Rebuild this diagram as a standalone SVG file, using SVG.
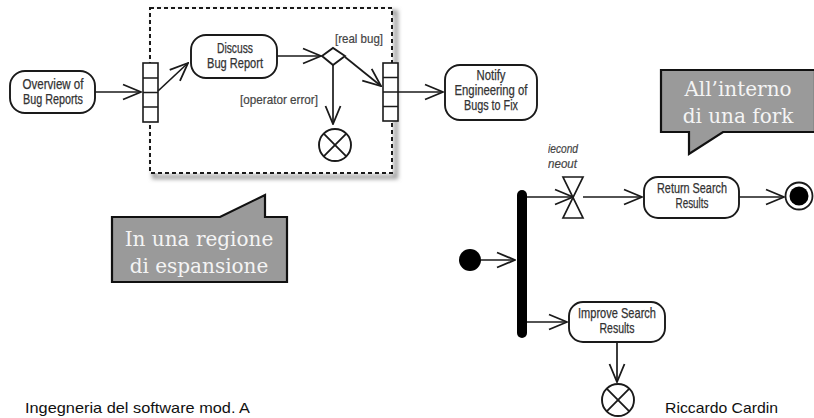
<svg xmlns="http://www.w3.org/2000/svg" width="814" height="418" viewBox="0 0 814 418">
<style>
.act{fill:#fff;stroke:#1a1a1a;stroke-width:1.9}
.lbl{font-family:"Liberation Sans","DejaVu Sans",sans-serif;font-size:14px;fill:#333;text-anchor:middle;stroke:#333;stroke-width:0.25}
.grd{font-family:"Liberation Sans","DejaVu Sans",sans-serif;font-size:13px;fill:#444;stroke:#444;stroke-width:0.2}
.edge{fill:none;stroke:#1a1a1a;stroke-width:1.7}
.pin{fill:#fff;stroke:#1a1a1a;stroke-width:1.6}
.callout{fill:#9a9a9a;stroke:#111;stroke-width:2.2}
.ctext{font-family:"DejaVu Serif","Liberation Serif",serif;font-size:20px;fill:#f4f4f4;text-anchor:middle}
.foot{font-family:"Liberation Sans","Open Sans",sans-serif;font-size:15px;fill:#111}
</style>
<defs>
<marker id="open" viewBox="0 0 20 18" refX="19" refY="9" markerWidth="20" markerHeight="18" markerUnits="userSpaceOnUse" orient="auto">
<path d="M1,1.5 L19,9 L1,16.5" fill="none" stroke="#1a1a1a" stroke-width="1.8"/>
</marker>
<filter id="blur" x="-10%" y="-10%" width="120%" height="120%"><feGaussianBlur stdDeviation="2"/></filter>
<clipPath id="rclip"><rect x="548" y="130" width="60" height="50"/></clipPath>
</defs>
<rect width="814" height="418" fill="#fff"/>

<g id="expansion-region">
<rect x="154" y="12" width="242" height="165" fill="none" stroke="#999" stroke-width="4" filter="url(#blur)"/>
<rect x="150" y="8" width="242" height="165" fill="#fff" stroke="#1a1a1a" stroke-width="2" stroke-dasharray="4,3"/>
</g>

<g id="overview">
<rect class="act" x="10" y="71" width="85" height="42" rx="15"/>
<text class="lbl" x="53" y="89" textLength="61" lengthAdjust="spacingAndGlyphs">Overview of</text>
<text class="lbl" x="53" y="104" textLength="60" lengthAdjust="spacingAndGlyphs">Bug Reports</text>
</g>

<g id="input-pins">
<rect class="pin" x="143" y="63" width="15" height="59"/>
<path d="M143,78 H158 M143,92.5 H158 M143,107 H158" stroke="#1a1a1a" stroke-width="1.6"/>
</g>

<g id="discuss">
<rect class="act" x="191" y="35" width="86" height="43" rx="15"/>
<text class="lbl" x="235" y="53" textLength="36" lengthAdjust="spacingAndGlyphs">Discuss</text>
<text class="lbl" x="235" y="68" textLength="56" lengthAdjust="spacingAndGlyphs">Bug Report</text>
</g>

<g id="decision">
<path class="act" d="M322,56 L333,48 L345,56 L333,65 Z"/>
<text class="grd" x="335" y="43" textLength="48" lengthAdjust="spacingAndGlyphs">[real bug]</text>
<text class="grd" x="240" y="104" textLength="78" lengthAdjust="spacingAndGlyphs">[operator error]</text>
</g>

<g id="flow-final-1">
<circle class="act" cx="335" cy="145" r="16"/>
<path d="M323.7,133.7 L346.3,156.3 M346.3,133.7 L323.7,156.3" stroke="#1a1a1a" stroke-width="1.8"/>
</g>

<g id="output-pins">
<rect class="pin" x="383" y="63" width="15" height="58"/>
<path d="M383,77.5 H398 M383,92 H398 M383,106.5 H398" stroke="#1a1a1a" stroke-width="1.6"/>
</g>

<g id="notify">
<rect class="act" x="445" y="65" width="92" height="55" rx="15"/>
<text class="lbl" x="491" y="80" textLength="29" lengthAdjust="spacingAndGlyphs">Notify</text>
<text class="lbl" x="491" y="95" textLength="73" lengthAdjust="spacingAndGlyphs">Engineering of</text>
<text class="lbl" x="491" y="110" textLength="54" lengthAdjust="spacingAndGlyphs">Bugs to Fix</text>
</g>

<g id="initial">
<circle cx="470" cy="260" r="11" fill="#000"/>
</g>

<g id="fork">
<rect x="517" y="190" width="10" height="148" rx="5" fill="#000"/>
</g>

<g id="timer">
<path d="M563,177 H583 L563,218 H583 Z" fill="#fff" stroke="#1a1a1a" stroke-width="1.7"/>
<g clip-path="url(#rclip)">
<text class="grd" x="548" y="153" font-style="italic" textLength="30" lengthAdjust="spacingAndGlyphs">iecond</text>
<text class="grd" x="548" y="168" font-style="italic" textLength="29" lengthAdjust="spacingAndGlyphs">neout</text>
</g>
</g>

<g id="return-search">
<rect class="act" x="644" y="177" width="95" height="41" rx="14"/>
<text class="lbl" x="692" y="193" textLength="70" lengthAdjust="spacingAndGlyphs">Return Search</text>
<text class="lbl" x="692" y="208" textLength="33" lengthAdjust="spacingAndGlyphs">Results</text>
</g>

<g id="final">
<circle cx="799" cy="196" r="13.5" fill="#fff" stroke="#1a1a1a" stroke-width="1.8"/>
<circle cx="799" cy="196" r="9.5" fill="#000"/>
</g>

<g id="improve-search">
<rect class="act" x="569" y="302" width="96" height="40" rx="14"/>
<text class="lbl" x="617" y="318" textLength="78" lengthAdjust="spacingAndGlyphs">Improve Search</text>
<text class="lbl" x="617" y="333" textLength="35" lengthAdjust="spacingAndGlyphs">Results</text>
</g>

<g id="flow-final-2">
<circle class="act" cx="618" cy="400" r="16"/>
<path d="M606.7,388.7 L629.3,411.3 M629.3,388.7 L606.7,411.3" stroke="#1a1a1a" stroke-width="1.8"/>
</g>

<g id="connectors">
<path class="edge" marker-end="url(#open)" d="M95,92 L141,92"/>
<path class="edge" marker-end="url(#open)" d="M158,91 L188,63"/>
<path class="edge" marker-end="url(#open)" d="M277,56 L321,56"/>
<path class="edge" marker-end="url(#open)" d="M345,57 L381,86"/>
<path class="edge" marker-end="url(#open)" d="M333,65 L333,124"/>
<path class="edge" marker-end="url(#open)" d="M398,92 L443,92"/>
<path class="edge" marker-end="url(#open)" d="M481,260 L515,260"/>
<path class="edge" marker-end="url(#open)" d="M527,197 L573,197"/>
<path class="edge" marker-end="url(#open)" d="M583,197 L642,197"/>
<path class="edge" marker-end="url(#open)" d="M739,197 L784,197"/>
<path class="edge" marker-end="url(#open)" d="M527,322 L567,322"/>
<path class="edge" marker-end="url(#open)" d="M617,342 L617,382"/>
</g>

<g id="callout-expansion">
<path class="callout" d="M112,217 H220 L265,195 V217 H287 V282 H112 Z"/>
<text class="ctext" x="199" y="246">In una regione</text>
<text class="ctext" x="199" y="273">di espansione</text>
</g>

<g id="callout-fork">
<path class="callout" d="M661,70 H815 V132 H723 L689,154 V132 H661 Z"/>
<text class="ctext" x="738" y="96">All’interno</text>
<text class="ctext" x="738" y="123">di una fork</text>
</g>

<text class="foot" x="25" y="413" textLength="225" lengthAdjust="spacingAndGlyphs">Ingegneria del software mod. A</text>
<text class="foot" x="665" y="413" textLength="113" lengthAdjust="spacingAndGlyphs">Riccardo Cardin</text>
</svg>
